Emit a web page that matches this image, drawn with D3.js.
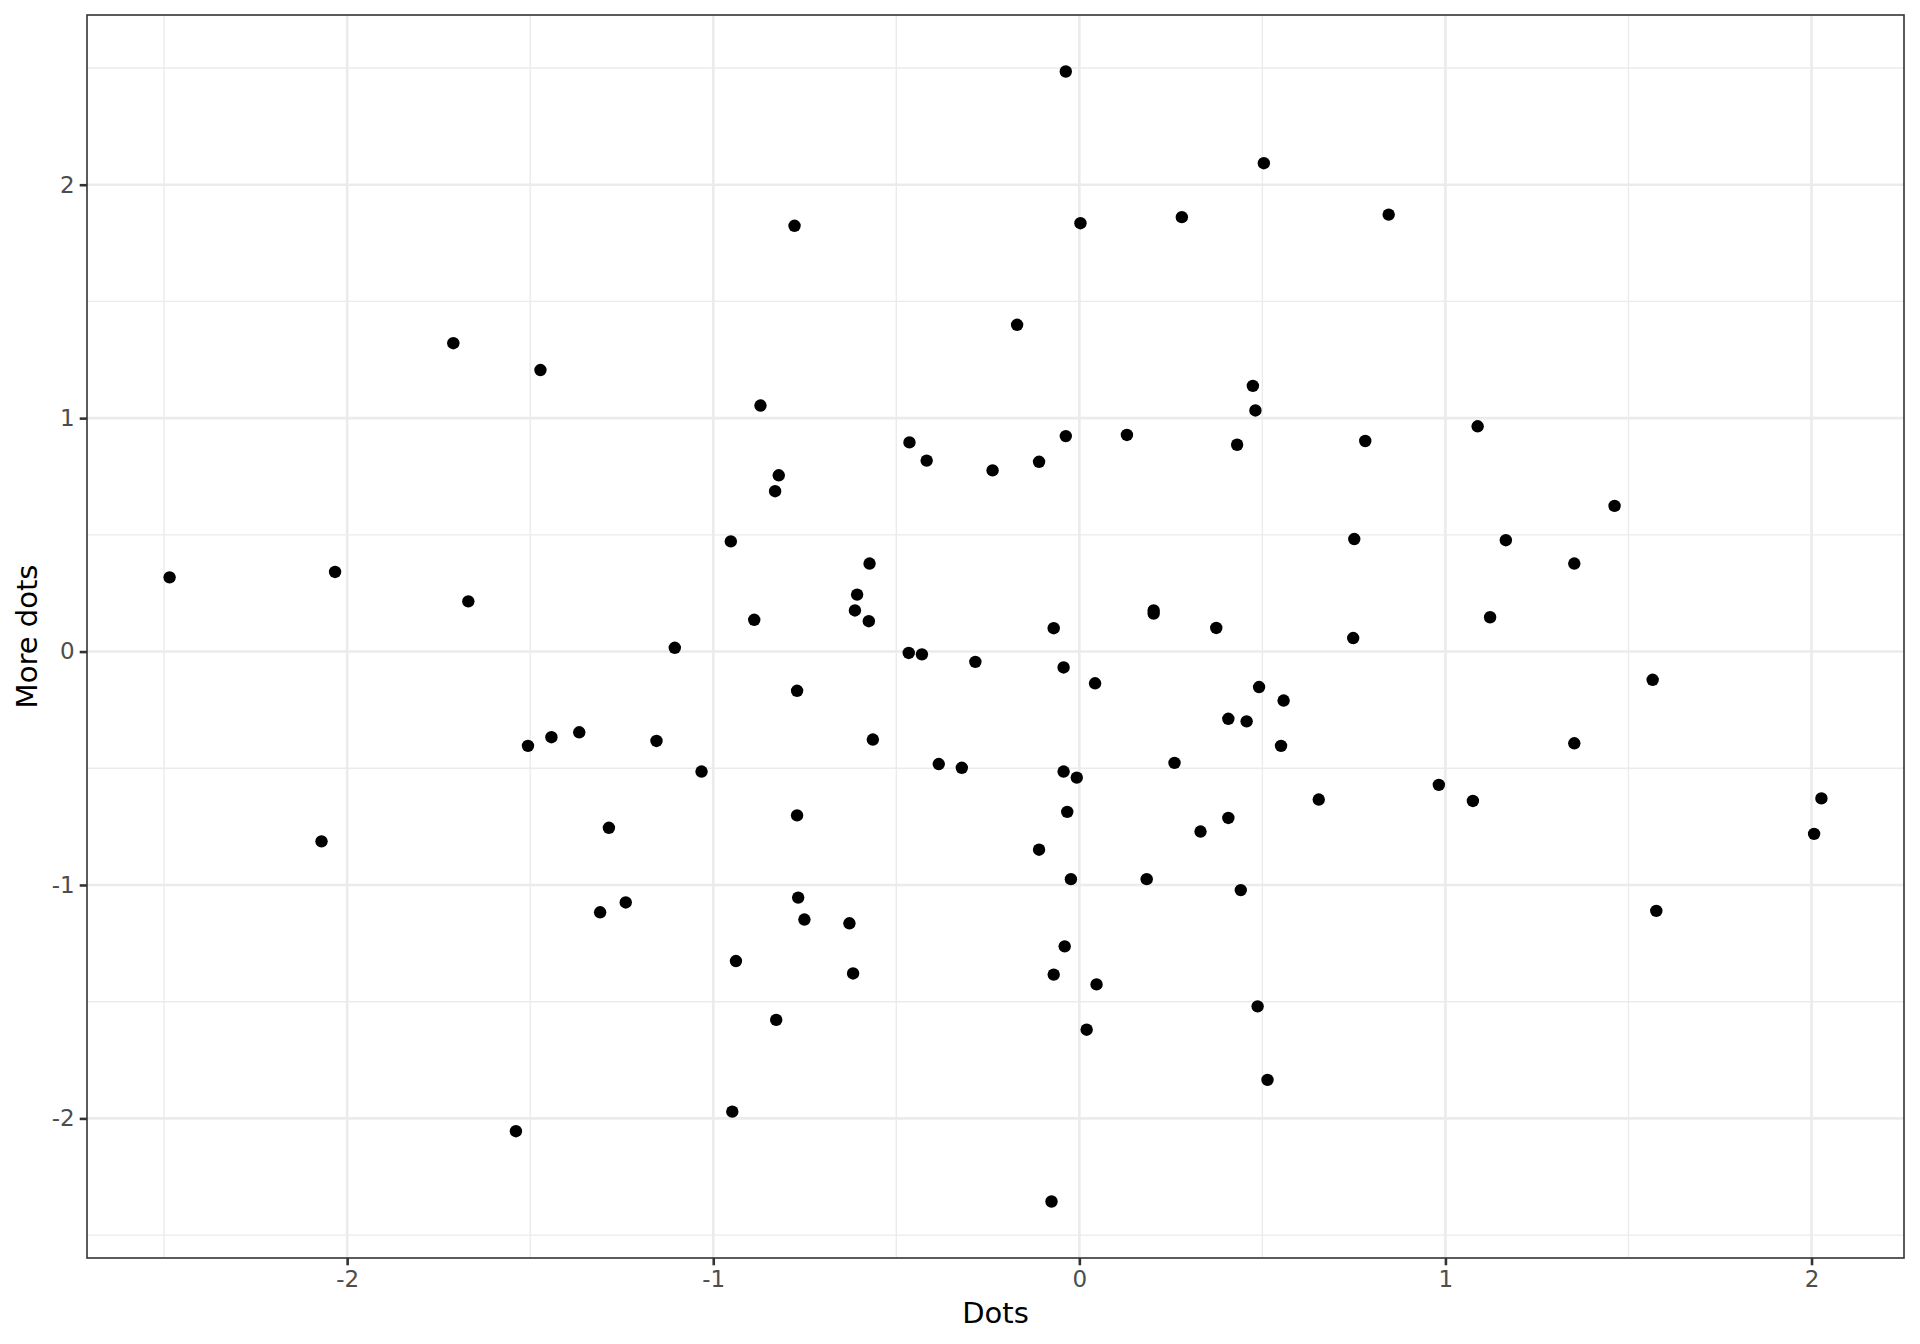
<!DOCTYPE html>
<html>
<head>
<meta charset="utf-8">
<script src="https://cdn.jsdelivr.net/npm/d3@7"></script>
<style>
  html, body { margin: 0; padding: 0; background: #ffffff; }
  svg { display: block; }
  text { font-family: "DejaVu Sans", sans-serif; }
</style>
</head>
<body>
<svg id="chart" width="1920" height="1344"></svg>
<script>
// ---- data ----
const dotsX = [
  -0.037, 0.504, -0.778, 0.003, 0.280, 0.845, -0.170, -1.710, -1.472, 0.474,
  0.481, -0.871, 1.088, -0.464, -0.037, 0.130, 0.781, 0.431, -0.417, -0.110,
  -0.237, -0.821, -0.831, 1.462, -0.952, 0.751, 1.165, -2.485, -2.033, -0.573,
  1.352, -1.669, -0.607, -0.613, -0.888, -0.575, 0.203, 0.203, 1.122, -0.070,
  0.374, 0.748, -1.105, -0.466, -0.430, -0.284, -0.043, 0.043, 0.491, 1.566,
  -0.771, 0.558, 0.407, 0.457, -1.366, -1.442, -1.506, -1.155, -0.564, 0.551,
  1.352, -0.384, -0.321, 0.260, -1.032, -0.043, -0.007, 0.654, 0.982, 1.075,
  2.027, -0.033, -0.771, 0.407, -1.285, 0.331, 2.007, -2.070, -0.110, -0.023,
  0.184, 0.441, -0.768, -1.239, -1.309, 1.576, -0.751, -0.628, -0.040, -0.938,
  -0.618, -0.070, 0.047, 0.487, -0.828, 0.020, 0.514, -0.948, -1.539, -0.076
];
const moreDotsY = [
  2.485, 2.092, 1.824, 1.835, 1.861, 1.872, 1.400, 1.321, 1.206, 1.138,
  1.033, 1.054, 0.965, 0.896, 0.923, 0.928, 0.902, 0.886, 0.818, 0.813,
  0.776, 0.755, 0.687, 0.624, 0.472, 0.482, 0.477, 0.318, 0.341, 0.377,
  0.377, 0.215, 0.244, 0.176, 0.136, 0.130, 0.176, 0.163, 0.147, 0.100,
  0.101, 0.058, 0.016, -0.006, -0.012, -0.044, -0.068, -0.136, -0.152, -0.121,
  -0.168, -0.210, -0.288, -0.299, -0.346, -0.367, -0.404, -0.383, -0.377, -0.404,
  -0.393, -0.482, -0.498, -0.477, -0.514, -0.514, -0.540, -0.634, -0.571, -0.640,
  -0.629, -0.687, -0.702, -0.713, -0.755, -0.771, -0.781, -0.813, -0.849, -0.975,
  -0.975, -1.022, -1.054, -1.075, -1.117, -1.111, -1.148, -1.164, -1.263, -1.326,
  -1.379, -1.384, -1.426, -1.520, -1.578, -1.620, -1.835, -1.971, -2.055, -2.356
];
const xMajorTicks = [-2, -1, 0, 1, 2];
const yMajorTicks = [-2, -1, 0, 1, 2];
const xMinorTicks = [-2.5, -1.5, -0.5, 0.5, 1.5];
const yMinorTicks = [-2.5, -1.5, -0.5, 0.5, 1.5, 2.5];
const xTitle = "Dots";
const yTitle = "More dots";

// ---- layout ----
const panel = { left: 87, top: 15, right: 1904, bottom: 1258 };

function expand(ext, f) {
  const r = ext[1] - ext[0];
  return [ext[0] - r * f, ext[1] + r * f];
}
const x = d3.scaleLinear()
  .domain(expand(d3.extent(dotsX), 0.05))
  .range([panel.left, panel.right]);
const y = d3.scaleLinear()
  .domain(expand(d3.extent(moreDotsY), 0.05))
  .range([panel.bottom, panel.top]);

const svg = d3.select("#chart");
const gridColor = "#EBEBEB";

// minor grid
svg.append("g").selectAll("line.xm").data(xMinorTicks).join("line")
  .attr("x1", d => x(d)).attr("x2", d => x(d))
  .attr("y1", panel.top).attr("y2", panel.bottom)
  .attr("stroke", gridColor).attr("stroke-width", 1.4);
svg.append("g").selectAll("line.ym").data(yMinorTicks).join("line")
  .attr("y1", d => y(d)).attr("y2", d => y(d))
  .attr("x1", panel.left).attr("x2", panel.right)
  .attr("stroke", gridColor).attr("stroke-width", 1.4);
// major grid
svg.append("g").selectAll("line.xM").data(xMajorTicks).join("line")
  .attr("x1", d => x(d)).attr("x2", d => x(d))
  .attr("y1", panel.top).attr("y2", panel.bottom)
  .attr("stroke", gridColor).attr("stroke-width", 2.6);
svg.append("g").selectAll("line.yM").data(yMajorTicks).join("line")
  .attr("y1", d => y(d)).attr("y2", d => y(d))
  .attr("x1", panel.left).attr("x2", panel.right)
  .attr("stroke", gridColor).attr("stroke-width", 2.6);

// points
svg.append("g").selectAll("circle").data(dotsX.map((d, i) => [d, moreDotsY[i]])).join("circle")
  .attr("cx", d => x(d[0])).attr("cy", d => y(d[1]))
  .attr("r", 6.2).attr("fill", "#000000");

// axes
const xAxis = d3.axisBottom(x).tickValues(xMajorTicks).tickSize(7.3).tickPadding(5)
  .tickFormat(d => String(d));
const gx = svg.append("g").attr("transform", `translate(0,${panel.bottom})`).call(xAxis);
gx.select(".domain").remove();
gx.selectAll(".tick line").attr("stroke", "#333333").attr("stroke-width", 2.6);
gx.selectAll(".tick text").attr("fill", "#4D4D4D").style("font-size", "23px")
  .style("font-family", "DejaVu Sans");

const yAxis = d3.axisLeft(y).tickValues(yMajorTicks).tickSize(7.3).tickPadding(5)
  .tickFormat(d => String(d));
const gy = svg.append("g").attr("transform", `translate(${panel.left},0)`).call(yAxis);
gy.select(".domain").remove();
gy.selectAll(".tick line").attr("stroke", "#333333").attr("stroke-width", 2.6);
gy.selectAll(".tick text").attr("fill", "#4D4D4D").style("font-size", "23px")
  .style("font-family", "DejaVu Sans");

// panel border
svg.append("rect")
  .attr("x", panel.left).attr("y", panel.top)
  .attr("width", panel.right - panel.left).attr("height", panel.bottom - panel.top)
  .attr("fill", "none").attr("stroke", "#333333").attr("stroke-width", 1.6);

// titles
svg.append("text")
  .attr("x", (panel.left + panel.right) / 2).attr("y", 1323)
  .attr("text-anchor", "middle").style("font-size", "29px").attr("fill", "#000000")
  .text(xTitle);
svg.append("text")
  .attr("transform", `translate(37,${(panel.top + panel.bottom) / 2}) rotate(-90)`)
  .attr("text-anchor", "middle").style("font-size", "29px").attr("fill", "#000000")
  .text(yTitle);
</script>
</body>
</html>
